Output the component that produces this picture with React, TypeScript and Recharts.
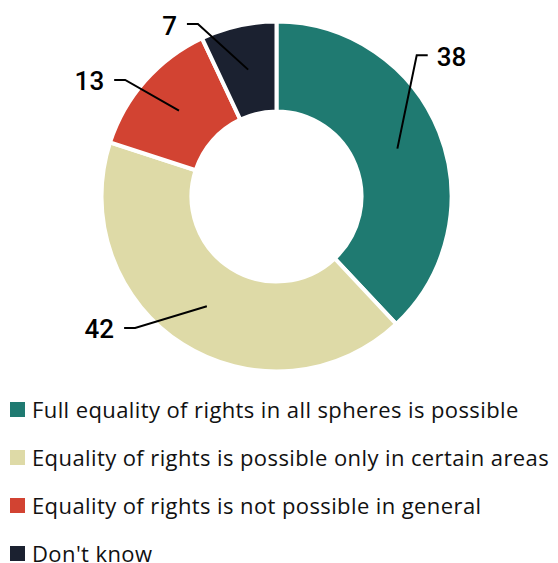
import React from "react";
import { PieChart, Pie, Cell, Legend } from "recharts";

const categories = [
  "Full equality of rights in all spheres is possible",
  "Equality of rights is possible only in certain areas",
  "Equality of rights is not possible in general",
  "Don't know",
];
const values = [38, 42, 13, 7];
const colors = ["#1f7a71", "#dedaa7", "#d24332", "#1b2130"];

// label leader-line elbow layout: [clockwise angle shift (deg), radius]
const labelLayout = [
  [-23.6, 199],
  [14.7, 193],
  [-3.8, 191],
  [-11.9, 189.5],
];

const data = categories.map((name, i) => ({ name, value: values[i] }));

const RAD = Math.PI / 180;

const renderLabel = (props: any) => {
  const { cx, cy, midAngle, innerRadius, outerRadius, index, value } = props;
  const mr = (innerRadius + outerRadius) / 2;
  const sx = cx + mr * Math.cos(-midAngle * RAD);
  const sy = cy + mr * Math.sin(-midAngle * RAD);
  const [shift, er] = labelLayout[index];
  const ea = midAngle - shift;
  const ex = cx + er * Math.cos(-ea * RAD);
  const ey = cy + er * Math.sin(-ea * RAD);
  const right = ex > cx;
  const hx = ex + (right ? 11 : -11);
  const tx = hx + (right ? 9 : -10);
  return (
    <g key={`lbl-${index}`}>
      <polyline
        points={`${sx},${sy} ${ex},${ey} ${hx},${ey}`}
        fill="none"
        stroke="#000"
        strokeWidth={2}
      />
      <text
        x={tx}
        y={ey + 1.5}
        textAnchor={right ? "start" : "end"}
        dominantBaseline="central"
        fontFamily="Roboto, Arial, sans-serif"
        fontWeight={500}
        fontSize={26}
        fill="#000"
      >
        {value}
      </text>
    </g>
  );
};

const renderLegend = () => (
  <div style={{ fontFamily: "'Open Sans', sans-serif" }}>
    {categories.map((c, i) => (
      <div
        key={c}
        style={{
          display: "flex",
          alignItems: "center",
          height: 48,
        }}
      >
        <div
          style={{
            width: 15,
            height: 15,
            background: colors[i],
            marginLeft: 10,
            marginRight: 7,
            flex: "none",
          }}
        />
        <span
          style={{
            display: "inline-block",
            fontSize: 22,
            lineHeight: "18px",
            height: 18,
            letterSpacing: 0.4,
            color: "#111",
            whiteSpace: "nowrap",
          }}
        >
          {c}
        </span>
      </div>
    ))}
  </div>
);

export default function App() {
  return (
    <div style={{ position: "absolute", left: 0, top: 0, width: 558, height: 563, background: "#fff" }}>
      <PieChart width={558} height={563}>
        <Pie
          data={data}
          dataKey="value"
          nameKey="name"
          cx={271.5}
          cy={191.5}
          innerRadius={85}
          outerRadius={175}
          startAngle={90}
          endAngle={-270}
          stroke="#fff"
          strokeWidth={4}
          label={renderLabel}
          labelLine={false}
          isAnimationActive={false}
        >
          {data.map((d, i) => (
            <Cell key={d.name} fill={colors[i]} />
          ))}
        </Pie>
        <Legend
          content={renderLegend}
          wrapperStyle={{ position: "absolute", left: 0, top: 385, width: 558 }}
        />
      </PieChart>
    </div>
  );
}
